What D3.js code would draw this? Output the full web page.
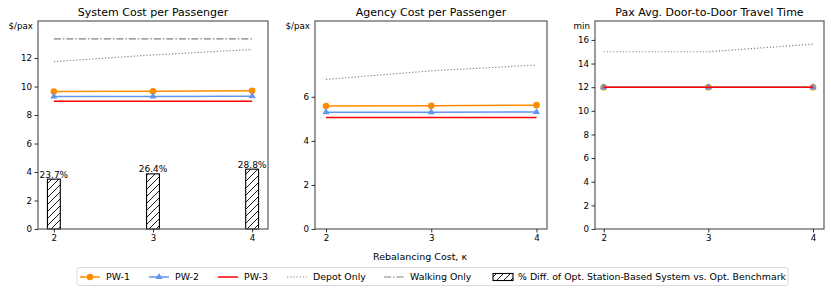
<!DOCTYPE html>
<meta charset="utf-8">
<style>
body { margin: 0; background: #fff; }
* { font-family: "DejaVu Sans", sans-serif; }
.tick text { font-size: 8.7px; fill: #000; }
</style>
<body>
<script src="https://cdn.jsdelivr.net/npm/d3@7"></script>
<script>

var kappa = [2, 3, 4];

// system cost per passenger
var sysPW1 = [9.65, 9.67, 9.70];
var sysPW2 = [9.30, 9.30, 9.32];
var sysPW3 = [8.97, 8.97, 8.97];
var sysDepot = [11.75, 12.22, 12.60];
var sysWalk = [13.35, 13.35, 13.35];
var sysBar = [3.50, 3.87, 4.20];
var barLabels = ["23.7%", "26.4%", "28.8%"];

// agency cost per passenger
var agPW1 = [5.58, 5.59, 5.62];
var agPW2 = [5.30, 5.30, 5.31];
var agPW3 = [5.06, 5.06, 5.06];
var agDepot = [6.79, 7.18, 7.44];

// door-to-door travel time
var ttPW1 = [12, 12, 12];
var ttPW2 = [12, 12, 12];
var ttPW3 = [12, 12, 12];
var ttDepot = [15.0, 15.0, 15.64];

var colors = {pw1: "#ff8c00", pw2: "#6495ed", pw3: "#ff0000", gray: "#808080"};

var svg = d3.select("body").append("svg")
    .attr("width", 831)
    .attr("height", 292);

// hatch pattern for bars
svg.append("defs").append("pattern")
    .attr("id", "hatch")
    .attr("patternUnits", "userSpaceOnUse")
    .attr("width", 7).attr("height", 7)
  .call(function(p) {
    p.append("rect").attr("width", 7).attr("height", 7).attr("fill", "#fff");
    p.append("path").attr("d", "M-1,1 l2,-2 M0,7 l7,-7 M6,8 l2,-2")
      .attr("stroke", "#000").attr("stroke-width", 0.9);
  });

var panels = [
  {title: "System Cost per Passenger", unit: "$/pax", left: 38, right: 268,
   xdom: [1.84, 4.16], ymax: 14.6, ticks: [0, 2, 4, 6, 8, 10, 12],
   depot: sysDepot, walk: sysWalk, pw1: sysPW1, pw2: sysPW2, pw3: sysPW3, bars: sysBar},
  {title: "Agency Cost per Passenger", unit: "$/pax", left: 315, right: 547,
   xdom: [1.895, 4.1], ymax: 9.44, ticks: [0, 2, 4, 6],
   depot: agDepot, pw1: agPW1, pw2: agPW2, pw3: agPW3},
  {title: "Pax Avg. Door-to-Door Travel Time", unit: "min", left: 595, right: 824,
   xdom: [1.917, 4.105], ymax: 17.6, ticks: [0, 2, 4, 6, 8, 10, 12, 14, 16],
   depot: ttDepot, pw1: ttPW1, pw2: ttPW2, pw3: ttPW3}
];

var plotTop = 21, plotBottom = 229;

panels.forEach(function(p, pi) {
  var x = d3.scaleLinear().domain(p.xdom).range([p.left, p.right]);
  var y = d3.scaleLinear().domain([0, p.ymax]).range([plotBottom, plotTop]);
  var g = svg.append("g");

  function line(vals) {
    return d3.line()
      .x(function(d, i) { return x(kappa[i]); })
      .y(function(d) { return y(d); })(vals);
  }

  if (p.bars) {
    var bw = x(2.065) - x(1.935);
    g.selectAll(".bar").data(p.bars).enter().append("rect")
      .attr("x", function(d, i) { return x(kappa[i]) - bw / 2; })
      .attr("y", function(d) { return y(d); })
      .attr("width", bw)
      .attr("height", function(d) { return y(0) - y(d); })
      .attr("fill", "url(#hatch)")
      .attr("stroke", "#000")
      .attr("stroke-width", 1.1);
    g.selectAll(".blab").data(p.bars).enter().append("text")
      .attr("x", function(d, i) { return x(kappa[i]); })
      .attr("y", function(d) { return y(d) - 1.5; })
      .attr("text-anchor", "middle")
      .attr("font-size", "9px")
      .text(function(d, i) { return barLabels[i]; });
  }

  if (p.walk) {
    g.append("path").attr("d", line(p.walk)).attr("fill", "none")
      .attr("stroke", colors.gray).attr("stroke-width", 1.2)
      .attr("stroke-dasharray", "7,2,1.5,2");
  }
  g.append("path").attr("d", line(p.depot)).attr("fill", "none")
    .attr("stroke", colors.gray).attr("stroke-width", 1.2)
    .attr("stroke-dasharray", "1.2,2");

  // PW-1
  g.append("path").attr("d", line(p.pw1)).attr("fill", "none")
    .attr("stroke", colors.pw1).attr("stroke-width", 1.5);
  g.selectAll(".m1").data(p.pw1).enter().append("circle")
    .attr("cx", function(d, i) { return x(kappa[i]); })
    .attr("cy", function(d) { return y(d); })
    .attr("r", 3.3).attr("fill", colors.pw1);

  // PW-2
  g.append("path").attr("d", line(p.pw2)).attr("fill", "none")
    .attr("stroke", colors.pw2).attr("stroke-width", 1.5);
  g.selectAll(".m2").data(p.pw2).enter().append("path")
    .attr("d", d3.symbol().type(d3.symbolTriangle).size(22))
    .attr("transform", function(d, i) { return "translate(" + x(kappa[i]) + "," + y(d) + ")"; })
    .attr("fill", colors.pw2);

  // PW-3
  g.append("path").attr("d", line(p.pw3)).attr("fill", "none")
    .attr("stroke", colors.pw3).attr("stroke-width", 1.5);

  // frame
  g.append("rect").attr("x", p.left).attr("y", plotTop)
    .attr("width", p.right - p.left).attr("height", plotBottom - plotTop)
    .attr("fill", "none").attr("stroke", "#5a5a5a").attr("stroke-width", 1.2);

  // axes
  var xa = g.append("g").attr("transform", "translate(0," + plotBottom + ")")
    .call(d3.axisBottom(x).tickValues(kappa).tickFormat(d3.format("d")).tickSize(3.5).tickPadding(2.5));
  var ya = g.append("g").attr("transform", "translate(" + p.left + ",0)")
    .call(d3.axisLeft(y).tickValues(p.ticks).tickFormat(d3.format("d")).tickSize(3.5).tickPadding(2.5));
  [xa, ya].forEach(function(a) {
    a.select(".domain").remove();
    a.selectAll(".tick line").attr("stroke", "#000").attr("stroke-width", 0.8);
  });

  g.append("text")
    .attr("x", (p.left + p.right) / 2).attr("y", 16)
    .attr("text-anchor", "middle").attr("font-size", "11px")
    .text(p.title);

  g.append("text")
    .attr("x", p.left - 5).attr("y", 29)
    .attr("text-anchor", "end").attr("font-size", "8.7px")
    .text(p.unit);
});

svg.append("text")
  .attr("x", 420).attr("y", 260)
  .attr("text-anchor", "middle").attr("font-size", "9.5px")
  .text("Rebalancing Cost, \u03ba");

// legend
var lg = svg.append("g");
lg.append("rect").attr("x", 77).attr("y", 267.5).attr("width", 711).attr("height", 18)
  .attr("rx", 2).attr("fill", "#fff").attr("stroke", "#d0d0d0").attr("stroke-width", 0.8);

var legendItems = [
  {label: "PW-1", x: 80, type: "pw1"},
  {label: "PW-2", x: 149, type: "pw2"},
  {label: "PW-3", x: 218, type: "pw3"},
  {label: "Depot Only", x: 287, type: "depot"},
  {label: "Walking Only", x: 384, type: "walk"},
  {label: "% Diff. of Opt. Station-Based System vs. Opt. Benchmark", x: 492, type: "bar"}
];
var ly = 277;
legendItems.forEach(function(it) {
  var hx = it.x, hw = 20;
  if (it.type === "bar") {
    lg.append("rect").attr("x", hx + 1).attr("y", ly - 3.5).attr("width", hw).attr("height", 7)
      .attr("fill", "url(#hatch)").attr("stroke", "#000").attr("stroke-width", 1.1);
  } else {
    var ln = lg.append("line").attr("x1", hx).attr("x2", hx + hw).attr("y1", ly).attr("y2", ly)
      .attr("stroke-width", it.type === "depot" || it.type === "walk" ? 1.2 : 1.5);
    if (it.type === "pw1") ln.attr("stroke", colors.pw1);
    if (it.type === "pw2") ln.attr("stroke", colors.pw2);
    if (it.type === "pw3") ln.attr("stroke", colors.pw3);
    if (it.type === "depot") ln.attr("stroke", colors.gray).attr("stroke-dasharray", "1.2,2");
    if (it.type === "walk") ln.attr("stroke", colors.gray).attr("stroke-dasharray", "7,2,1.5,2");
    if (it.type === "pw1") lg.append("circle").attr("cx", hx + hw / 2).attr("cy", ly).attr("r", 3.3).attr("fill", colors.pw1);
    if (it.type === "pw2") lg.append("path").attr("d", d3.symbol().type(d3.symbolTriangle).size(22))
      .attr("transform", "translate(" + (hx + hw / 2) + "," + ly + ")").attr("fill", colors.pw2);
  }
  lg.append("text").attr("x", hx + hw + 6).attr("y", ly + 3.3)
    .attr("font-size", "9.4px").text(it.label);
});

</script>
</body>
</html>
